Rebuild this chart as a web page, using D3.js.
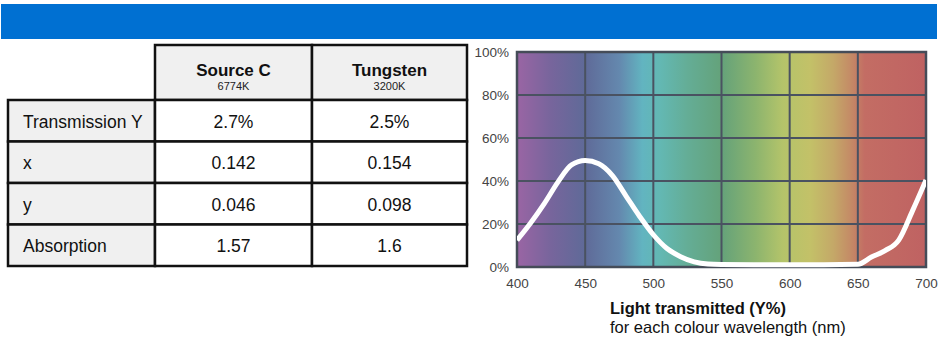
<!DOCTYPE html>
<html><head><meta charset="utf-8">
<script src="https://cdn.jsdelivr.net/npm/d3@7"></script>
<style>
html,body{margin:0;padding:0;background:#fff;}
svg{display:block;font-family:"Liberation Sans",Arial,Helvetica,sans-serif;}
</style></head>
<body><svg id="c" width="941" height="340"></svg>
<script>
// ---- data ----
const columns = ["Source C", "Tungsten"];
const columnSubs = ["6774K", "3200K"];
const rowLabels = ["Transmission Y", "x", "y", "Absorption"];
const sourceC = ["2.7%", "0.142", "0.046", "1.57"];
const tungsten = ["2.5%", "0.154", "0.098", "1.6"];

const wavelengths = [400,410,420,430,440,450,460,470,480,490,500,510,520,530,540,550,575,600,625,650,660,670,680,690,700];
const transmission = [12.5,20.5,29.5,39.5,47.5,49.5,48,42.5,33,23.5,15,8.6,4.8,2.4,1.4,1.2,1.1,1.1,1.1,1.3,4.6,7.6,12.5,26,40.5];
const xTicks = [400,450,500,550,600,650,700];
const yTicks = [0,20,40,60,80,100];

// spectrum background stops (wavelength, colour)
const spectrumNm = [400,425,450,475,492,505,525,550,575,595,615,632,645,655,700];
const spectrumCol = ["#9a65a4","#77659c","#5f6a98","#6488ae","#62b4c0","#63b8b3","#64ad96","#64a27a","#8cb46e","#b4c46a","#c3c168","#c4a868","#c48a66","#c36d64","#bf6262"];

const svg = d3.select("#c");

// banner
svg.append("rect").attr("x",1).attr("y",4).attr("width",936).attr("height",35).attr("fill","#0070d2");

// ---- table ----
const colX = [8,155,312,467];
const rowY = [45,100,141.5,183,224.5,266];
const g = svg.append("g");
const FS = 17.5;
// header cells
columns.forEach((c,i)=>{
  g.append("rect").attr("x",colX[i+1]).attr("y",rowY[0]).attr("width",colX[i+2]-colX[i+1]).attr("height",rowY[1]-rowY[0])
    .attr("fill","#f0f0f0").attr("stroke","#111").attr("stroke-width",2.5);
  const cx=(colX[i+1]+colX[i+2])/2;
  g.append("text").attr("x",cx).attr("y",75.5).attr("text-anchor","middle").attr("font-size",17).attr("font-weight","bold").attr("fill","#111").text(c);
  g.append("text").attr("x",cx).attr("y",89.5).attr("text-anchor","middle").attr("font-size",11).attr("fill","#222").text(columnSubs[i]);
});
const cols=[sourceC,tungsten];
rowLabels.forEach((r,j)=>{
  const y0=rowY[j+1], y1=rowY[j+2], cy=(y0+y1)/2+7;
  g.append("rect").attr("x",colX[0]).attr("y",y0).attr("width",colX[1]-colX[0]).attr("height",y1-y0)
   .attr("fill","#f0f0f0").attr("stroke","#111").attr("stroke-width",2.5);
  g.append("text").attr("x",colX[0]+15).attr("y",cy).attr("font-size",FS).attr("fill","#111").text(r);
  cols.forEach((arr,i)=>{
    g.append("rect").attr("x",colX[i+1]).attr("y",y0).attr("width",colX[i+2]-colX[i+1]).attr("height",y1-y0)
     .attr("fill","#fff").attr("stroke","#111").attr("stroke-width",2.5);
    g.append("text").attr("x",(colX[i+1]+colX[i+2])/2).attr("y",cy).attr("text-anchor","middle").attr("font-size",FS).attr("fill","#111").text(arr[j]);
  });
});

// ---- chart ----
const L=517, R=926, T=52, B=267;
const x=d3.scaleLinear().domain([400,700]).range([L,R]);
const y=d3.scaleLinear().domain([0,100]).range([B,T]);

const defs=svg.append("defs");
const grad=defs.append("linearGradient").attr("id","spec").attr("gradientUnits","userSpaceOnUse")
  .attr("x1",x(400)).attr("x2",x(700)).attr("y1",0).attr("y2",0);
spectrumNm.forEach((w,i)=>grad.append("stop").attr("offset",(w-400)/300).attr("stop-color",spectrumCol[i]));
defs.append("clipPath").attr("id","clip").append("rect").attr("x",L).attr("y",T-5).attr("width",R-L).attr("height",B-T+10);

svg.append("rect").attr("x",L).attr("y",T).attr("width",R-L).attr("height",B-T).attr("fill","url(#spec)");

// grid
svg.append("g").selectAll("line").data(xTicks).join("line")
  .attr("x1",d=>x(d)).attr("x2",d=>x(d)).attr("y1",T).attr("y2",B).attr("stroke","#4a5261").attr("stroke-width",2);
svg.append("g").selectAll("line").data(yTicks).join("line")
  .attr("x1",L).attr("x2",R).attr("y1",d=>y(d)).attr("y2",d=>y(d)).attr("stroke","#4a5261").attr("stroke-width",2);
svg.append("rect").attr("x",L).attr("y",T).attr("width",R-L).attr("height",B-T).attr("fill","none").attr("stroke","#454c58").attr("stroke-width",2.5);

// curve
const line=d3.line().x((d,i)=>x(wavelengths[i])).y(d=>y(d)).curve(d3.curveMonotoneX);
svg.append("path").datum(transmission).attr("d",line).attr("fill","none").attr("stroke","#fff")
  .attr("stroke-width",5).attr("stroke-linejoin","round").attr("clip-path","url(#clip)");

// axes
const xa=svg.append("g").attr("transform",`translate(0,${B})`)
  .call(d3.axisBottom(x).tickValues(xTicks).tickSize(0).tickPadding(11).tickFormat(d3.format("d")));
const ya=svg.append("g").attr("transform",`translate(${L},0)`)
  .call(d3.axisLeft(y).tickValues(yTicks).tickSize(0).tickPadding(8).tickFormat(d=>d+"%"));
[xa,ya].forEach(a=>{a.select(".domain").remove();a.selectAll("text").attr("font-size",13.5).attr("fill","#444").attr("font-family","Liberation Sans, Arial, sans-serif");});

svg.append("text").attr("x",610).attr("y",314).attr("font-size",16.5).attr("font-weight","bold").attr("fill","#111").text("Light transmitted (Y%)");
svg.append("text").attr("x",610).attr("y",332.5).attr("font-size",16.5).attr("fill","#111").text("for each colour wavelength (nm)");
</script></body></html>
